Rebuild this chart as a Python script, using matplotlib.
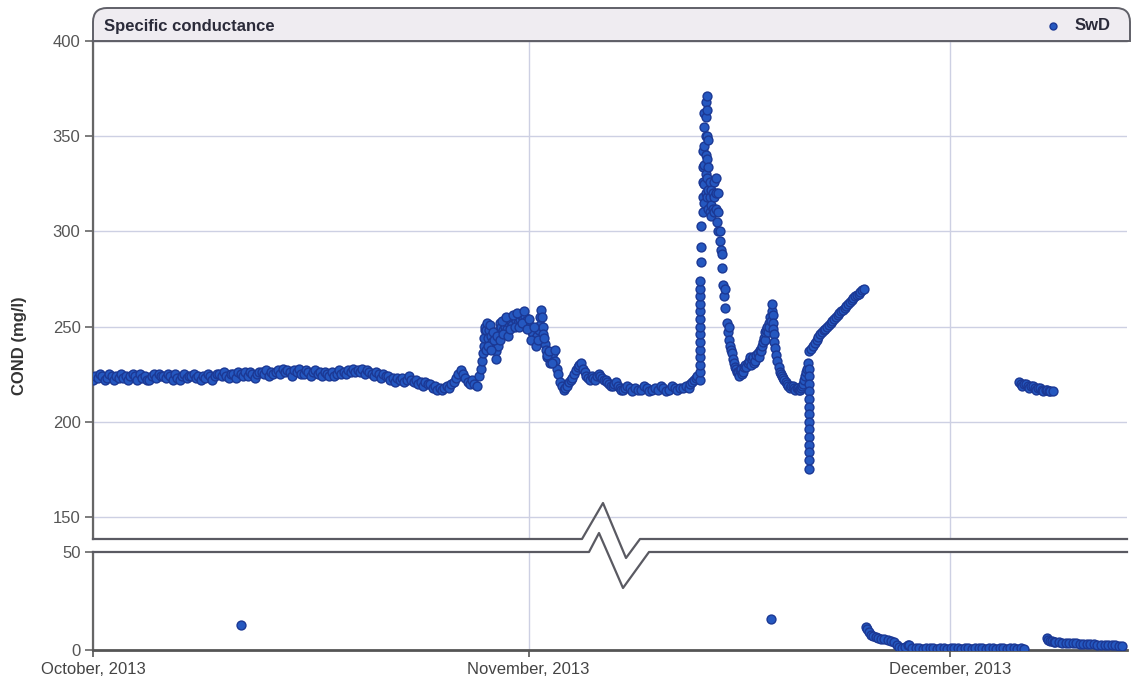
import numpy as np
import pandas as pd
import matplotlib
matplotlib.use("Agg")
import matplotlib.pyplot as plt
import matplotlib.dates as mdates
from matplotlib.path import Path
from matplotlib.patches import PathPatch
from matplotlib.lines import Line2D

plt.rcParams['font.family'] = ['Liberation Sans', 'DejaVu Sans']

START = pd.Timestamp('2013-10-01')

# October: six readings a day (every 4 h), days 0..26
oct_readings = [
    [222, 224, 223, 225, 224, 222], [223, 225, 224, 222, 224, 223],
    [225, 223, 224, 222, 224, 225], [224, 222, 225, 223, 224, 222],
    [222, 224, 225, 223, 225, 224], [224, 223, 225, 224, 222, 225],
    [223, 222, 224, 225, 223, 224], [224, 225, 223, 224, 222, 224],
    [223, 225, 224, 222, 224, 225], [225, 224, 226, 224, 223, 225],
    [225, 223, 226, 225, 224, 226], [224, 226, 225, 223, 225, 226],
    [226, 225, 227, 224, 226, 225], [226, 227, 225, 228, 226, 227],
    [226, 224, 227, 226, 228, 225], [225, 227, 226, 224, 226, 227],
    [225, 226, 224, 226, 225, 224], [226, 224, 225, 227, 225, 226],
    [225, 227, 226, 228, 226, 227], [226, 228, 225, 227, 226, 225],
    [224, 226, 225, 223, 225, 224], [224, 222, 223, 221, 223, 222],
    [223, 221, 222, 224, 222, 221], [222, 220, 221, 219, 221, 220],
    [220, 218, 219, 217, 218, 217], [218, 219, 218, 220, 221, 223],
    [225, 227, 225, 223, 221, 220],
]

# late Oct / early Nov, [day since Oct 1, value]
mid_series = [
    [27.0, 222], [27.15, 220], [27.3, 219], [27.45, 224], [27.6, 228],
    [27.7, 232], [27.75, 236], [27.8, 240], [27.85, 244], [27.88, 248],
    [27.92, 250], [28.0, 248], [28.1, 244], [28.2, 248], [28.3, 245],
    [28.4, 242], [28.5, 240], [28.6, 238], [28.7, 237], [28.8, 240],
    [28.85, 244], [28.9, 248], [28.95, 252], [29.05, 250], [29.15, 248],
    [29.25, 252], [29.35, 250], [29.5, 249], [29.6, 252], [29.75, 253],
    [29.85, 251], [30.0, 255], [30.1, 253], [30.25, 252], [30.4, 254],
    [30.5, 256], [30.6, 255], [30.75, 255], [30.85, 253], [31.0, 251],
    [31.1, 249], [31.25, 247], [31.35, 246], [31.5, 244], [31.6, 245],
    [31.75, 248], [31.8, 251], [31.85, 255], [31.9, 259], [31.95, 255],
    [32.0, 250], [32.05, 246], [32.15, 241], [32.25, 238], [32.35, 234],
    [32.5, 231], [32.6, 233], [32.75, 236], [32.85, 232], [33.0, 228],
    [33.1, 225], [33.25, 221], [33.35, 219], [33.5, 217], [33.6, 218],
    [33.75, 219], [33.85, 221], [34.0, 222], [34.1, 223], [34.25, 225],
    [34.35, 227], [34.5, 229], [34.6, 230], [34.75, 231], [34.85, 228],
    [35.0, 226], [35.1, 224], [35.25, 223], [35.4, 222], [35.5, 224],
    [35.6, 223], [35.75, 222], [35.9, 224], [36.0, 225], [36.1, 224],
    [36.25, 223], [36.4, 222], [36.5, 222], [36.6, 221], [36.75, 220],
    [36.9, 219], [37.0, 219], [37.1, 220], [37.25, 221], [37.4, 219],
    [37.5, 218], [37.6, 217], [37.75, 217], [37.9, 218], [38.0, 219],
    [38.2, 218], [38.4, 216], [38.6, 218], [38.8, 217], [39.0, 217],
    [39.2, 219], [39.4, 218], [39.6, 216], [39.8, 217], [40.0, 218],
    [40.2, 217], [40.4, 219], [40.6, 218], [40.8, 216], [41.0, 217],
    [41.2, 219], [41.4, 218], [41.6, 217], [41.8, 218], [42.0, 218],
    [42.2, 219], [42.4, 218], [42.5, 220], [42.65, 221], [42.75, 222],
    [42.9, 223], [43.0, 224],
    # scatter around the end-of-October peak
    [27.95, 238], [28.05, 252], [28.15, 240], [28.25, 251], [28.35, 238],
    [28.45, 247], [28.55, 243], [28.65, 233], [28.75, 245], [29.0, 243],
    [29.1, 253], [29.2, 246], [29.4, 255], [29.55, 245], [29.7, 249],
    [29.9, 256], [30.05, 250], [30.2, 257], [30.35, 250], [30.55, 252],
    [30.7, 258], [30.9, 249], [31.05, 254], [31.2, 243], [31.4, 250],
    [31.55, 240], [31.7, 243], [32.1, 244], [32.3, 235], [32.45, 237],
    [32.7, 231], [32.9, 238],
]

# storm event mid November
spike_series = [
    [43.2, 222], [43.2, 226], [43.2, 230], [43.2, 234], [43.2, 238],
    [43.2, 242], [43.2, 246], [43.2, 250], [43.2, 254], [43.2, 258],
    [43.2, 262], [43.2, 266], [43.2, 270], [43.2, 274], [43.3, 284],
    [43.3, 292], [43.3, 303], [43.4, 310], [43.4, 318], [43.4, 326],
    [43.4, 334], [43.4, 342], [43.5, 315], [43.5, 325], [43.5, 335],
    [43.5, 345], [43.5, 355], [43.5, 362], [43.6, 320], [43.6, 330],
    [43.6, 340], [43.6, 350], [43.6, 360], [43.6, 368], [43.7, 318],
    [43.7, 328], [43.7, 338], [43.7, 350], [43.7, 364], [43.7, 371],
    [43.8, 312], [43.8, 322], [43.8, 334], [43.8, 348], [43.9, 310],
    [43.9, 318], [43.9, 326], [44.0, 308], [44.0, 314], [44.0, 322],
    [44.1, 312], [44.1, 320], [44.2, 310], [44.2, 318], [44.2, 326],
    [44.35, 312], [44.35, 320], [44.35, 328], [44.45, 305], [44.5, 300],
    [44.5, 310], [44.5, 320], [44.6, 295], [44.6, 300], [44.7, 290],
    [44.75, 281], [44.75, 288], [44.85, 272], [44.92, 266], [45.0, 260],
    [45.0, 270], [45.1, 252], [45.18, 247], [45.25, 243], [45.25, 250],
    [45.33, 240], [45.4, 238], [45.5, 236], [45.57, 233], [45.64, 231],
    [45.7, 229], [45.75, 228], [45.82, 226], [45.9, 226], [46.0, 224],
    [46.05, 227], [46.1, 228], [46.18, 225], [46.25, 226], [46.32, 229],
    [46.4, 230], [46.5, 229], [46.6, 231], [46.7, 232], [46.78, 234],
    [46.85, 230], [46.92, 233], [47.0, 234], [47.08, 231], [47.15, 232],
    [47.22, 235], [47.3, 236], [47.38, 234], [47.45, 238], [47.52, 237],
    [47.6, 240], [47.68, 242], [47.75, 244], [47.8, 243], [47.85, 247],
    [47.92, 248], [48.0, 250], [48.05, 247], [48.1, 252], [48.15, 250],
    [48.2, 255], [48.25, 253], [48.3, 258], [48.35, 262], [48.38, 256],
    [48.4, 252], [48.43, 249], [48.45, 246], [48.5, 242], [48.55, 239],
    [48.62, 235], [48.7, 232], [48.8, 229], [48.9, 226], [48.97, 225],
    [49.05, 224], [49.12, 223], [49.2, 222], [49.3, 221], [49.4, 220],
    [49.5, 219], [49.6, 218], [49.7, 219], [49.8, 219], [49.9, 218],
    [50.0, 217], [50.08, 218], [50.15, 218], [50.22, 217], [50.3, 217],
    [50.38, 218], [50.45, 219], [50.52, 220], [50.6, 222], [50.68, 224],
    [50.75, 226], [50.82, 228], [50.9, 231],
    [50.93, 228], [50.93, 224], [50.93, 220], [50.93, 216], [50.93, 212],
    [50.93, 208], [50.93, 204], [50.93, 200], [50.93, 196], [50.93, 192],
    [50.93, 188], [50.93, 184], [50.93, 180], [50.93, 175],
    [51.0, 237], [51.125, 238.5], [51.25, 240], [51.375, 241.5],
    [51.5, 243], [51.625, 244.5], [51.75, 246], [51.875, 247],
    [52.0, 248], [52.125, 249], [52.25, 250], [52.375, 251],
    [52.5, 252], [52.625, 253], [52.75, 254], [52.875, 255],
    [53.0, 256], [53.125, 257], [53.25, 258], [53.375, 259],
    [53.5, 260], [53.625, 261], [53.75, 262], [53.875, 263],
    [54.0, 264], [54.125, 265], [54.25, 266], [54.375, 266.5],
    [54.5, 267], [54.625, 268], [54.75, 269], [54.9, 270],
]

# short stretch in December
dec_series = [
    [65.9, 221], [66.05, 220], [66.15, 219], [66.3, 220], [66.4, 220],
    [66.55, 219], [66.65, 218], [66.8, 219], [66.9, 219], [67.05, 218],
    [67.15, 217], [67.3, 218], [67.4, 218], [67.55, 217], [67.65, 216],
    [67.8, 217], [67.9, 217], [68.05, 216], [68.15, 216], [68.3, 216],
]

# readings below the axis break
low_series = [
    [10.52, 12.9], [48.29, 16.0],
    [55.0, 11.5], [55.1, 10.5], [55.2, 9.0], [55.35, 7.7], [55.5, 7.0],
    [55.7, 6.5], [55.9, 6.2], [56.1, 5.8], [56.3, 5.5], [56.6, 5.2],
    [56.8, 4.5], [57.0, 4.1], [57.2, 2.5], [57.4, 1.5], [57.6, 1.2],
    [57.8, 1.5], [58.0, 2.6], [58.1, 2.4], [58.3, 1.2], [58.55, 0.8],
    [58.8, 1.0], [59.05, 0.7], [59.3, 0.9], [59.55, 0.8], [59.8, 1.0],
    [60.05, 0.7], [60.3, 0.9], [60.55, 0.8], [60.8, 0.7], [61.05, 0.9],
    [61.3, 0.8], [61.55, 1.0], [61.8, 0.7], [62.05, 0.8], [62.3, 0.9],
    [62.55, 0.7], [62.8, 0.8], [63.05, 1.0], [63.3, 0.8], [63.55, 0.7],
    [63.8, 0.9], [64.05, 0.8], [64.3, 0.7], [64.55, 0.9], [64.8, 0.8],
    [65.05, 0.7], [65.3, 0.9], [65.55, 0.8], [65.8, 0.7], [66.05, 0.8],
    [66.3, 0.7],
    [67.9, 6.2], [68.0, 5.0], [68.15, 4.6], [68.25, 4.5], [68.4, 4.2],
    [68.5, 4.0], [68.75, 4.0], [69.0, 3.8], [69.25, 3.6], [69.5, 3.6],
    [69.75, 3.4], [70.0, 3.4], [70.25, 3.2], [70.5, 3.2], [70.75, 3.0],
    [71.0, 3.0], [71.25, 3.0], [71.5, 2.8], [71.75, 2.8], [72.0, 2.6],
    [72.25, 2.6], [72.5, 2.5], [72.75, 2.4], [73.0, 2.2], [73.25, 2.0],
]

month_ticks = ['2013-10-01', '2013-11-01', '2013-12-01']


def to_time(days):
    return START + pd.to_timedelta(np.asarray(days, dtype=float), unit='D')


def main():
    W, H = 1134, 688
    fig = plt.figure(figsize=(W / 100, H / 100), dpi=100)

    def fx(px):
        return px / W

    def fy(py):
        return 1 - py / H

    left, right = 93, 1127
    ax_top = fig.add_axes([fx(left), fy(539), fx(right) - fx(left), fy(41) - fy(539)])
    ax_low = fig.add_axes([fx(left), fy(650), fx(right) - fx(left), fy(552) - fy(650)])

    # build series
    oct_arr = np.array(oct_readings, dtype=float)
    per_day = oct_arr.shape[1]
    oct_days = [d + k / per_day for d in range(len(oct_arr)) for k in range(per_day)]
    oct_vals = oct_arr.ravel()
    mid = np.array(mid_series)
    spk = np.array(spike_series)
    dec = np.array(dec_series)
    top_days = np.concatenate([oct_days, mid[:, 0], spk[:, 0], dec[:, 0]])
    top_vals = np.concatenate([oct_vals, mid[:, 1], spk[:, 1], dec[:, 1]])
    low = np.array(low_series)

    face, edge = '#2558c0', '#1b3894'
    style = dict(linestyle='none', marker='o', markersize=6.4,
                 markerfacecolor=face, markeredgecolor=edge,
                 markeredgewidth=1.0, zorder=3)
    ax_top.plot(to_time(top_days), top_vals, **style)
    ax_low.plot(to_time(low[:, 0]), low[:, 1], **style)

    x0 = START
    x1 = START + pd.Timedelta(days=73.6)
    grid_c = '#cdd0e3'
    ticks = pd.to_datetime(month_ticks)
    for ax in (ax_top, ax_low):
        ax.set_xlim(x0, x1)
        ax.set_xticks(ticks)
        ax.grid(True, color=grid_c, linewidth=1.0)
        ax.set_axisbelow(True)
        for s in ('right', 'top', 'bottom'):
            ax.spines[s].set_visible(False)
        ax.spines['left'].set_color('#666666')
        ax.spines['left'].set_linewidth(1.6)
        ax.tick_params(axis='y', length=6, width=1.2, color='#666666',
                       labelsize=12, labelcolor='#555555', pad=3)

    ax_top.set_ylim(138.5, 400)
    ax_top.set_yticks([150, 200, 250, 300, 350, 400])
    ax_top.tick_params(axis='x', length=0, labelbottom=False)
    ax_top.spines['top'].set_visible(True)
    ax_top.spines['top'].set_color('#555555')
    ax_top.spines['top'].set_linewidth(1.6)

    ax_low.set_ylim(0, 50)
    ax_low.set_yticks([0, 50])
    ax_low.yaxis.grid(False)
    ax_low.spines['bottom'].set_visible(True)
    ax_low.spines['bottom'].set_color('#555555')
    ax_low.spines['bottom'].set_linewidth(2.0)
    ax_low.xaxis.set_major_formatter(mdates.DateFormatter('%B, %Y'))
    ax_low.tick_params(axis='x', length=5, width=1.2, color='#555555',
                       labelsize=12, labelcolor='#444444', pad=4)

    # axis break lines with zigzag
    brk_top = [(left, 539), (582, 539), (603, 503), (626, 558), (640, 539), (right, 539)]
    brk_low = [(left, 552), (589, 552), (599, 533), (623, 588), (649, 552), (right, 552)]
    for pts in (brk_top, brk_low):
        xs = [fx(p[0]) for p in pts]
        ys = [fy(p[1]) for p in pts]
        fig.add_artist(Line2D(xs, ys, transform=fig.transFigure,
                              color='#5a5a62', linewidth=1.6, zorder=5))

    # header bar with rounded top corners
    bx0, bx1, by0, by1 = fx(left), fx(right + 3), fy(41), fy(8)
    rx, ry = 14 / W, 14 / H
    verts = [(bx0, by0), (bx0, by1 - ry), (bx0, by1), (bx0 + rx, by1),
             (bx1 - rx, by1), (bx1, by1), (bx1, by1 - ry), (bx1, by0), (bx0, by0)]
    codes = [Path.MOVETO, Path.LINETO, Path.CURVE3, Path.CURVE3,
             Path.LINETO, Path.CURVE3, Path.CURVE3, Path.LINETO, Path.CLOSEPOLY]
    bar = PathPatch(Path(verts, codes), transform=fig.transFigure,
                    facecolor='#efecf1', edgecolor='#606068', linewidth=1.4)
    fig.add_artist(bar)
    fig.text(fx(104), fy(26), 'Specific conductance', fontsize=12,
             fontweight='bold', color='#2b2b3a', ha='left', va='center')
    fig.add_artist(Line2D([fx(1053)], [fy(26)], transform=fig.transFigure,
                          marker='o', markersize=5.0, markerfacecolor=face,
                          markeredgecolor=edge, linestyle='none'))
    fig.text(fx(1075), fy(26), 'SwD', fontsize=12, fontweight='bold',
             color='#2b2b3a', ha='left', va='center')

    fig.text(fx(20), fy(346), 'COND (mg/l)', rotation=90, fontsize=12,
             fontweight='bold', color='#333333', ha='center', va='center')

    fig.savefig('out.png', dpi=100, facecolor='white')


if __name__ == "__main__":
    main()
